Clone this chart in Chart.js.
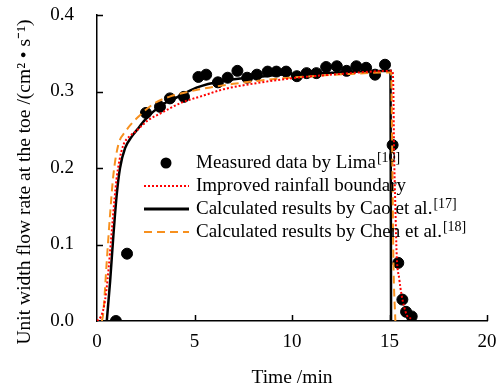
<!DOCTYPE html>
<html>
<head>
<meta charset="utf-8">
<script src="https://cdn.jsdelivr.net/npm/chart.js@4/dist/chart.umd.min.js"></script>
<style>
  html, body { margin: 0; padding: 0; background: #fff; }
  #wrap { width: 500px; height: 392px; }
</style>
</head>
<body>
<div id="wrap"><canvas id="flowChart" width="500" height="392"></canvas></div>
<script>
// measured data (Lima)
const measuredTime = [0.97, 1.54, 2.51, 3.23, 3.74, 4.46, 5.2, 5.6, 6.2, 6.7, 7.2, 7.7, 8.2, 8.75, 9.2, 9.7, 10.25, 10.75, 11.25, 11.75, 12.3, 12.8, 13.3, 13.8, 14.26, 14.77, 15.16, 15.45, 15.66, 15.85, 16.14];
const measuredFlow = [0.0, 0.088, 0.272, 0.280, 0.291, 0.293, 0.319, 0.322, 0.312, 0.318, 0.327, 0.318, 0.322, 0.326, 0.326, 0.326, 0.320, 0.324, 0.324, 0.332, 0.333, 0.327, 0.333, 0.331, 0.322, 0.335, 0.230, 0.076, 0.028, 0.012, 0.006];

// improved rainfall boundary
const improvedTime = [0, 0.2, 0.35, 0.48, 0.6, 0.75, 0.9, 1.0, 1.15, 1.35, 1.65, 1.95, 2.6, 3.3, 4.3, 5.5, 6.5, 8.2, 9.9, 12.5, 15.15, 15.2, 15.23, 15.3, 15.37, 15.5, 15.62, 15.88, 16.1];
const improvedFlow = [0, 0.006, 0.018, 0.04, 0.07, 0.115, 0.16, 0.185, 0.21, 0.23, 0.241, 0.247, 0.262, 0.272, 0.285, 0.295, 0.303, 0.311, 0.317, 0.323, 0.327, 0.3, 0.23, 0.15, 0.086, 0.055, 0.034, 0.008, 0.003];

// Cao et al.
const caoTime = [0.5, 0.67, 0.84, 1.01, 1.18, 1.44, 1.78, 2.12, 2.46, 3.3, 4.0, 5.1, 6.5, 8.2, 9.9, 11.6, 13.5, 15.05, 15.08];
const caoFlow = [0, 0.051, 0.112, 0.165, 0.2, 0.226, 0.241, 0.252, 0.263, 0.282, 0.291, 0.305, 0.314, 0.319, 0.323, 0.324, 0.326, 0.327, 0];

// Chen et al.
const chenTime = [0.25, 0.32, 0.5, 0.67, 0.84, 1.09, 1.44, 2.12, 2.97, 3.7, 5.3, 7.0, 9.0, 11.0, 13.0, 15.08, 15.15, 15.2, 15.3];
const chenFlow = [0, 0.01, 0.078, 0.139, 0.191, 0.23, 0.247, 0.267, 0.285, 0.293, 0.303, 0.310, 0.316, 0.320, 0.323, 0.325, 0.2, 0.08, 0];

const xTicks = [0, 5, 10, 15, 20];
const yTicks = [0, 0.1, 0.2, 0.3, 0.4];

const serif = "'Liberation Serif', 'Times New Roman', serif";
const orange = '#f7901e';

function pts(xs, ys) {
    return xs.map((x, i) => ({ x: x, y: ys[i] }));
}

// inward tick marks, y title and legend with superscripts
const extras = {
    id: 'extras',
    afterDatasetsDraw(chart) {
        const ctx = chart.ctx;
        const xs = chart.scales.x, ys = chart.scales.y;
        const area = chart.chartArea;
        ctx.save();
        ctx.strokeStyle = '#000';
        ctx.lineWidth = 1.5;
        ctx.beginPath();
        xTicks.slice(1).forEach(v => {
            const px = Math.round(xs.getPixelForValue(v)) + 0.5;
            ctx.moveTo(px, area.bottom);
            ctx.lineTo(px, area.bottom - 6);
        });
        yTicks.slice(1).forEach(v => {
            const py = Math.round(ys.getPixelForValue(v)) + 0.5;
            ctx.moveTo(area.left, py);
            ctx.lineTo(area.left + 6, py);
        });
        ctx.stroke();

        // y axis title
        ctx.save();
        ctx.translate(25, 182);
        ctx.rotate(-Math.PI / 2);
        ctx.fillStyle = '#000';
        ctx.font = '19.5px ' + serif;
        ctx.textAlign = 'center';
        ctx.textBaseline = 'middle';
        ctx.fillText('Unit width flow rate at the toe /(cm\u00b2 \u2022 s\u207b\u00b9)', 0, 0);
        ctx.restore();

        // legend
        const items = [
            { kind: 'point', text: 'Measured data by Lima', sup: '[10]' },
            { kind: 'line', color: '#ff0000', dash: [2, 2], width: 2, text: 'Improved rainfall boundary', sup: '' },
            { kind: 'line', color: '#000', dash: [], width: 3, text: 'Calculated results by Cao et al.', sup: '[17]' },
            { kind: 'line', color: orange, dash: [8, 5], width: 2, text: 'Calculated results by Chen et al.', sup: '[18]' }
        ];
        const lx0 = 144, lx1 = 189, tx = 196;
        items.forEach((it, i) => {
            const cy = 163 + i * 23;
            if (it.kind === 'point') {
                ctx.fillStyle = '#000';
                ctx.beginPath();
                ctx.arc(166, cy, 5.5, 0, Math.PI * 2);
                ctx.fill();
            } else {
                ctx.strokeStyle = it.color;
                ctx.lineWidth = it.width;
                ctx.setLineDash(it.dash);
                ctx.beginPath();
                ctx.moveTo(lx0, cy);
                ctx.lineTo(lx1, cy);
                ctx.stroke();
                ctx.setLineDash([]);
            }
            ctx.fillStyle = '#000';
            ctx.textAlign = 'left';
            ctx.textBaseline = 'middle';
            ctx.font = '19px ' + serif;
            ctx.fillText(it.text, tx, cy);
            if (it.sup) {
                const w = ctx.measureText(it.text).width;
                ctx.font = '14px ' + serif;
                ctx.fillText(it.sup, tx + w + 1, cy - 5);
            }
        });
        ctx.restore();
    }
};

const ctx = document.getElementById('flowChart').getContext('2d');
new Chart(ctx, {
    type: 'scatter',
    data: {
        datasets: [{
            label: 'Improved rainfall boundary',
            data: pts(improvedTime, improvedFlow),
            showLine: true,
            borderColor: '#ff0000',
            borderWidth: 2,
            borderDash: [2, 2],
            pointRadius: 0,
            cubicInterpolationMode: 'monotone',
            order: 0
        }, {
            label: 'Calculated results by Chen et al.',
            data: pts(chenTime, chenFlow),
            showLine: true,
            borderColor: orange,
            borderWidth: 2,
            borderDash: [8, 5],
            pointRadius: 0,
            cubicInterpolationMode: 'monotone',
            order: 1
        }, {
            label: 'Calculated results by Cao et al.',
            data: pts(caoTime, caoFlow),
            showLine: true,
            borderColor: '#000',
            borderWidth: 2.5,
            pointRadius: 0,
            cubicInterpolationMode: 'monotone',
            order: 2
        }, {
            label: 'Measured data by Lima',
            data: pts(measuredTime, measuredFlow),
            backgroundColor: '#000',
            borderColor: '#000',
            pointRadius: 5.5,
            order: 3
        }]
    },
    options: {
        responsive: false,
        animation: false,
        layout: { padding: { left: 0, right: 13, top: 15, bottom: 0 } },
        plugins: {
            legend: { display: false },
            tooltip: { enabled: false }
        },
        scales: {
            x: {
                type: 'linear',
                min: 0,
                max: 20,
                afterFit: s => { s.height = 71; s.paddingLeft = 0; s.paddingRight = 0; },
                afterBuildTicks: s => { s.ticks = xTicks.map(v => ({ value: v })); },
                grid: { display: false, drawTicks: false },
                border: { display: true, color: '#000', width: 1.5 },
                ticks: {
                    color: '#000',
                    padding: 10,
                    maxRotation: 0,
                    font: { family: serif, size: 19 }
                },
                title: {
                    display: true,
                    text: 'Time /min',
                    color: '#000',
                    padding: { top: 0, bottom: 2 },
                    font: { family: serif, size: 19.5 }
                }
            },
            y: {
                min: 0,
                max: 0.4,
                afterFit: s => { s.width = 97; s.paddingTop = 0; s.paddingBottom = 0; },
                afterBuildTicks: s => { s.ticks = yTicks.map(v => ({ value: v })); },
                grid: { display: false, drawTicks: false },
                border: { display: true, color: '#000', width: 1.5 },
                ticks: {
                    color: '#000',
                    padding: 23,
                    font: { family: serif, size: 19 },
                    callback: v => v.toFixed(1)
                }
            }
        }
    },
    plugins: [extras]
});
</script>
</body>
</html>
